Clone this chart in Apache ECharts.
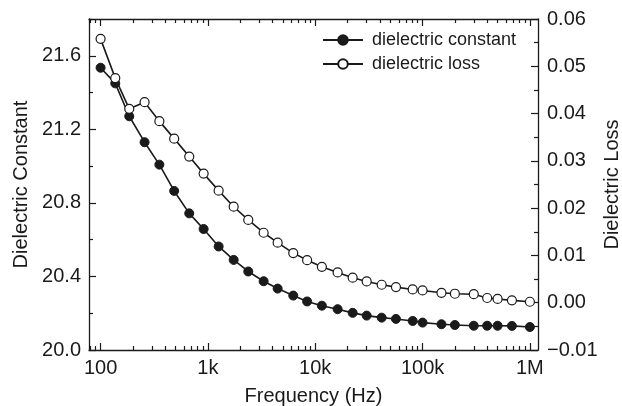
<!DOCTYPE html>
<html>
<head>
<meta charset="utf-8">
<script src="https://cdn.jsdelivr.net/npm/echarts@6/dist/echarts.min.js"></script>
<style>
  html, body { margin: 0; padding: 0; background: #fff; }
  #chart { width: 622px; height: 406px; }
</style>
</head>
<body>
<div id="chart"></div>
<script>
// frequency (Hz) of each measured point
var freq = [100, 137, 185, 257, 353, 485, 670, 912, 1259, 1738, 2377, 3305, 4464, 6240, 8400,
  11530, 16170, 22320, 30150, 41590, 56500, 80900, 100000, 150000, 200000, 300000, 400000,
  500000, 680000, 1000000];
var dielectricConstant = [21.535, 21.45, 21.271, 21.13, 21.008, 20.865, 20.743, 20.658, 20.563,
  20.49, 20.427, 20.374, 20.334, 20.296, 20.264, 20.241, 20.222, 20.202, 20.187, 20.176, 20.169,
  20.158, 20.149, 20.14, 20.136, 20.132, 20.132, 20.132, 20.131, 20.125];
var dielectricLoss = [0.0558, 0.0475, 0.0410, 0.0424, 0.0384, 0.0347, 0.0309, 0.0273, 0.0237,
  0.0203, 0.0175, 0.0148, 0.0127, 0.0105, 0.0090, 0.0076, 0.0064, 0.0053, 0.0045, 0.0038, 0.0033,
  0.0028, 0.0026, 0.0021, 0.0019, 0.0018, 0.0010, 0.0008, 0.0005, 0.0002];

// ticks
var xMajor = [100, 1000, 10000, 100000, 1000000];
var xLabels = ['100', '1k', '10k', '100k', '1M'];
var leftMajor = [20.0, 20.4, 20.8, 21.2, 21.6];
var leftMinor = [20.2, 20.6, 21.0, 21.4, 21.8];

var xMinor = [80, 90];
for (var d = 100; d < 1000000; d *= 10) {
  for (var k = 2; k <= 9; k++) xMinor.push(d * k);
}

var INK = '#1a1a1a';
var FONT = '"Liberation Sans", Arial, sans-serif';

function xAxisCfg(pos, ticks, len, showLine, showLabel) {
  return {
    type: 'log',
    position: pos,
    min: 78,
    max: 1190000,
    axisLine: { show: showLine, onZero: false, lineStyle: { color: INK, width: 1.3 } },
    axisTick: { show: true, inside: true, length: len, customValues: ticks,
      lineStyle: { color: INK, width: 1.2 } },
    axisLabel: showLabel ? {
      customValues: xMajor,
      margin: 8,
      color: INK,
      fontFamily: FONT,
      fontSize: 20,
      formatter: function (v) {
        var i = xMajor.indexOf(Math.round(v));
        return i >= 0 ? xLabels[i] : '';
      }
    } : { show: false },
    splitLine: { show: false },
    minorTick: { show: false }
  };
}

var xAxes = [
  xAxisCfg('bottom', xMajor, 7, true, true),
  xAxisCfg('bottom', xMinor, 4, false, false),
  xAxisCfg('top', xMajor, 7, true, false),
  xAxisCfg('top', xMinor, 4, false, false)
];
xAxes[0].name = 'Frequency (Hz)';
xAxes[0].nameLocation = 'middle';
xAxes[0].nameGap = 36;
xAxes[0].nameTextStyle = { color: INK, fontFamily: FONT, fontSize: 20 };

var constData = [], lossData = [];
for (var i = 0; i < freq.length; i++) {
  constData.push([freq[i], dielectricConstant[i]]);
  lossData.push([freq[i], dielectricLoss[i]]);
}

var chart = echarts.init(document.getElementById('chart'), null, { renderer: 'canvas' });
chart.setOption({
  animation: false,
  backgroundColor: '#fff',
  textStyle: { fontFamily: FONT },
  grid: { left: 89, right: 84, top: 19, bottom: 56, containLabel: false, outerBoundsMode: 'none' },
  legend: {
    left: 322,
    top: 31,
    padding: 0,
    orient: 'vertical',
    itemWidth: 40,
    itemHeight: 12,
    itemGap: 6,
    textStyle: { color: INK, fontFamily: FONT, fontSize: 18, padding: [0, 0, 0, 4] },
    data: ['dielectric constant', 'dielectric loss']
  },
  xAxis: xAxes,
  yAxis: [
    {
      type: 'value',
      position: 'left',
      min: 20,
      max: 21.8,
      name: 'Dielectric Constant',
      nameLocation: 'middle',
      nameGap: 56,
      nameTextStyle: { color: INK, fontFamily: FONT, fontSize: 20 },
      axisLine: { show: true, onZero: false, lineStyle: { color: INK, width: 1.3 } },
      axisTick: { inside: true, length: 7, customValues: leftMajor, lineStyle: { color: INK, width: 1.2 } },
      axisLabel: {
        customValues: leftMajor,
        margin: 8,
        color: INK,
        fontFamily: FONT,
        fontSize: 20,
        formatter: function (v) { return v.toFixed(1); }
      },
      splitLine: { show: false }
    },
    {
      type: 'value',
      position: 'right',
      min: -0.01,
      max: 0.06,
      interval: 0.01,
      name: 'Dielectric Loss',
      nameLocation: 'middle',
      nameGap: 64,
      nameRotate: 90,
      nameMoveOverlap: false,
      nameTextStyle: { color: INK, fontFamily: FONT, fontSize: 20 },
      axisLine: { show: true, onZero: false, lineStyle: { color: INK, width: 1.3 } },
      axisTick: { inside: true, length: 7, lineStyle: { color: INK, width: 1.2 } },
      minorTick: { show: true, splitNumber: 2, length: 4, lineStyle: { color: INK, width: 1.2 } },
      axisLabel: {
        margin: 9,
        color: INK,
        fontFamily: FONT,
        fontSize: 20,
        formatter: function (v) {
          var s = Math.abs(v).toFixed(2);
          return v < -1e-9 ? '\u2212' + s : s;
        }
      },
      splitLine: { show: false }
    },
    {
      type: 'value',
      position: 'left',
      min: 20,
      max: 21.8,
      axisLine: { show: false, onZero: false },
      axisTick: { show: true, inside: true, length: 4, customValues: leftMinor, lineStyle: { color: INK, width: 1.2 } },
      axisLabel: { show: false },
      splitLine: { show: false }
    }
  ],
  series: [
    {
      name: 'dielectric constant',
      type: 'line',
      xAxisIndex: 0,
      yAxisIndex: 0,
      data: constData,
      symbol: 'circle',
      symbolSize: 9,
      lineStyle: { color: INK, width: 1.6 },
      itemStyle: { color: INK, borderColor: INK, borderWidth: 1 }
    },
    {
      name: 'dielectric loss',
      type: 'line',
      xAxisIndex: 0,
      yAxisIndex: 1,
      data: lossData,
      symbol: 'circle',
      symbolSize: 9,
      lineStyle: { color: INK, width: 1.6 },
      itemStyle: { color: '#fff', borderColor: INK, borderWidth: 1.2 }
    }
  ]
});
</script>
</body>
</html>
